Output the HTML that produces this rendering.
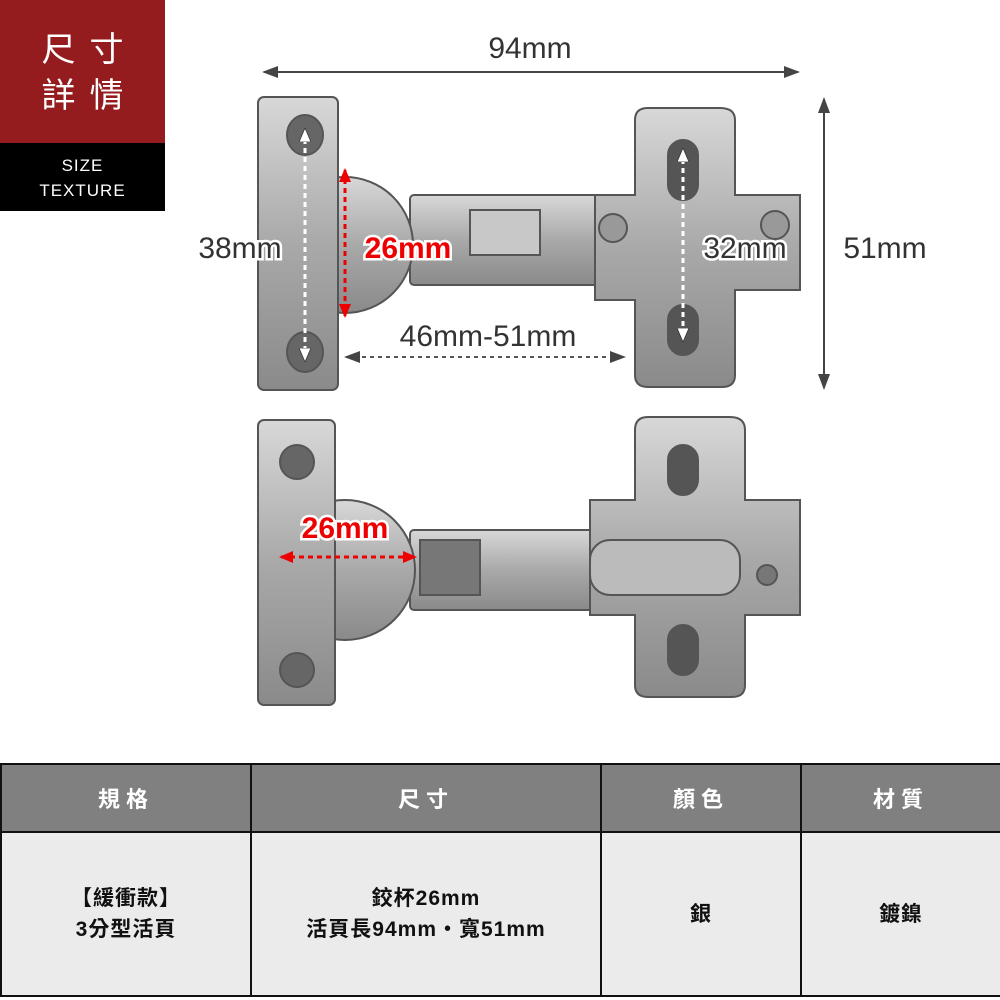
<!DOCTYPE html>
<html><head><meta charset="utf-8"><style>
body{margin:0;width:1000px;height:1000px;background:#fff;position:relative;overflow:hidden;font-family:"Liberation Sans","Noto Sans CJK TC",sans-serif}
.badge{position:absolute;left:0;top:0;width:165px}
.red{background:#941b1e;height:143px;color:#fff;font-size:34px;line-height:46px;text-align:center;letter-spacing:14px;padding-top:27px;box-sizing:border-box;padding-left:14px}
.blk{background:#000;height:68px;color:#fff;font-size:17px;line-height:25px;text-align:center;padding-top:10px;box-sizing:border-box;letter-spacing:1px}
table{position:absolute;left:0;top:763px;width:1000px;border-collapse:collapse;table-layout:fixed}
td{border:2px solid #111;text-align:center;font-size:21px;color:#111;letter-spacing:1px;font-weight:bold;padding:0}
.h td{background:#808080;color:#fff;height:66px;font-size:22px;letter-spacing:6px}
.b td{background:#ebebeb;height:162px;line-height:31px}
</style></head><body>
<div class="badge"><div class="red">尺寸<br>詳情</div><div class="blk">SIZE<br>TEXTURE</div></div>
<svg width="1000" height="760" style="position:absolute;left:0;top:0" font-family="Liberation Sans, sans-serif">
<defs>
<linearGradient id="m" x1="0" y1="0" x2="0" y2="1"><stop offset="0" stop-color="#d8d8d8"/><stop offset=".5" stop-color="#a9a9a9"/><stop offset="1" stop-color="#8a8a8a"/></linearGradient>
<marker id="a" markerUnits="userSpaceOnUse" markerWidth="16" markerHeight="12" refX="14" refY="6" orient="auto-start-reverse"><path d="M0,0L16,6L0,12z" fill="#444"/></marker>
<marker id="w" markerUnits="userSpaceOnUse" markerWidth="14" markerHeight="12" refX="12" refY="6" orient="auto-start-reverse"><path d="M0,0L14,6L0,12z" fill="#fff" stroke="#333" stroke-width=".8"/></marker>
<marker id="r" markerUnits="userSpaceOnUse" markerWidth="14" markerHeight="12" refX="12" refY="6" orient="auto-start-reverse"><path d="M0,0L14,6L0,12z" fill="#e00"/></marker>
</defs>
<g stroke="#555" stroke-width="2" fill="url(#m)">
<rect x="410" y="195" width="390" height="90" rx="4"/>
<path d="M595 195H635V120Q635 108 648 108H720Q735 108 735 120V195H800V290H735V375Q735 387 722 387H648Q635 387 635 375V300H595Z"/>
<circle cx="345" cy="245" r="68"/>
<rect x="258" y="97" width="80" height="293" rx="6"/>
<ellipse cx="305" cy="135" rx="18" ry="20" fill="#666"/><ellipse cx="305" cy="352" rx="18" ry="20" fill="#666"/>
<rect x="668" y="140" width="30" height="60" rx="15" fill="#555"/><rect x="668" y="305" width="30" height="50" rx="15" fill="#555"/>
<circle cx="613" cy="228" r="14" fill="#999"/><circle cx="775" cy="225" r="14" fill="#999"/>
<rect x="470" y="210" width="70" height="45" fill="#c8c8c8"/>
<rect x="410" y="530" width="390" height="80" rx="4"/>
<path d="M590 500H635V430Q635 417 648 417H730Q745 417 745 430V500H800V615H745V685Q745 697 732 697H648Q635 697 635 685V615H590Z"/>
<rect x="590" y="540" width="150" height="55" rx="20" fill="#bbb"/>
<circle cx="345" cy="570" r="70"/>
<rect x="258" y="420" width="77" height="285" rx="6"/>
<circle cx="297" cy="462" r="17" fill="#666"/><circle cx="297" cy="670" r="17" fill="#666"/>
<rect x="668" y="445" width="30" height="50" rx="15" fill="#555"/><rect x="668" y="625" width="30" height="50" rx="15" fill="#555"/>
<rect x="420" y="540" width="60" height="55" fill="#777"/>
<circle cx="767" cy="575" r="10" fill="#777"/>
</g>
<line x1="264" y1="72" x2="798" y2="72" stroke="#444" stroke-width="2" marker-start="url(#a)" marker-end="url(#a)"/>
<line x1="824" y1="99" x2="824" y2="388" stroke="#444" stroke-width="2" marker-start="url(#a)" marker-end="url(#a)"/>
<line x1="305" y1="130" x2="305" y2="360" stroke="#fff" stroke-width="3" stroke-dasharray="5,4" marker-start="url(#w)" marker-end="url(#w)"/>
<line x1="683" y1="150" x2="683" y2="340" stroke="#fff" stroke-width="3" stroke-dasharray="5,4" marker-start="url(#w)" marker-end="url(#w)"/>
<line x1="345" y1="170" x2="345" y2="316" stroke="#e00" stroke-width="3" stroke-dasharray="5,4" marker-start="url(#r)" marker-end="url(#r)"/>
<line x1="346" y1="357" x2="624" y2="357" stroke="#555" stroke-width="2" stroke-dasharray="4,4" marker-start="url(#a)" marker-end="url(#a)"/>
<line x1="281" y1="557" x2="415" y2="557" stroke="#e00" stroke-width="3" stroke-dasharray="5,4" marker-start="url(#r)" marker-end="url(#r)"/>
<g font-size="30" text-anchor="middle" fill="#333">
<text x="530" y="58">94mm</text>
<text x="885" y="258">51mm</text>
<text x="240" y="258" stroke="#fff" stroke-width="5" paint-order="stroke">38mm</text>
<text x="488" y="346" stroke="#fff" stroke-width="5" paint-order="stroke">46mm-51mm</text>
<text x="745" y="258" stroke="#fff" stroke-width="5" paint-order="stroke">32mm</text>
<text x="408" y="258" fill="#e00" stroke="#fff" stroke-width="5" paint-order="stroke" font-weight="bold">26mm</text>
<text x="345" y="538" fill="#e00" stroke="#fff" stroke-width="5" paint-order="stroke" font-weight="bold">26mm</text>
</g>
</svg>
<table>
<colgroup><col style="width:250px"><col style="width:350px"><col style="width:200px"><col style="width:200px"></colgroup>
<tr class="h"><td>規格</td><td>尺寸</td><td>顏色</td><td>材質</td></tr>
<tr class="b"><td>【緩衝款】<br>3分型活頁</td><td>鉸杯26mm<br>活頁長94mm‧寬51mm</td><td>銀</td><td>鍍鎳</td></tr>
</table>
</body></html>
